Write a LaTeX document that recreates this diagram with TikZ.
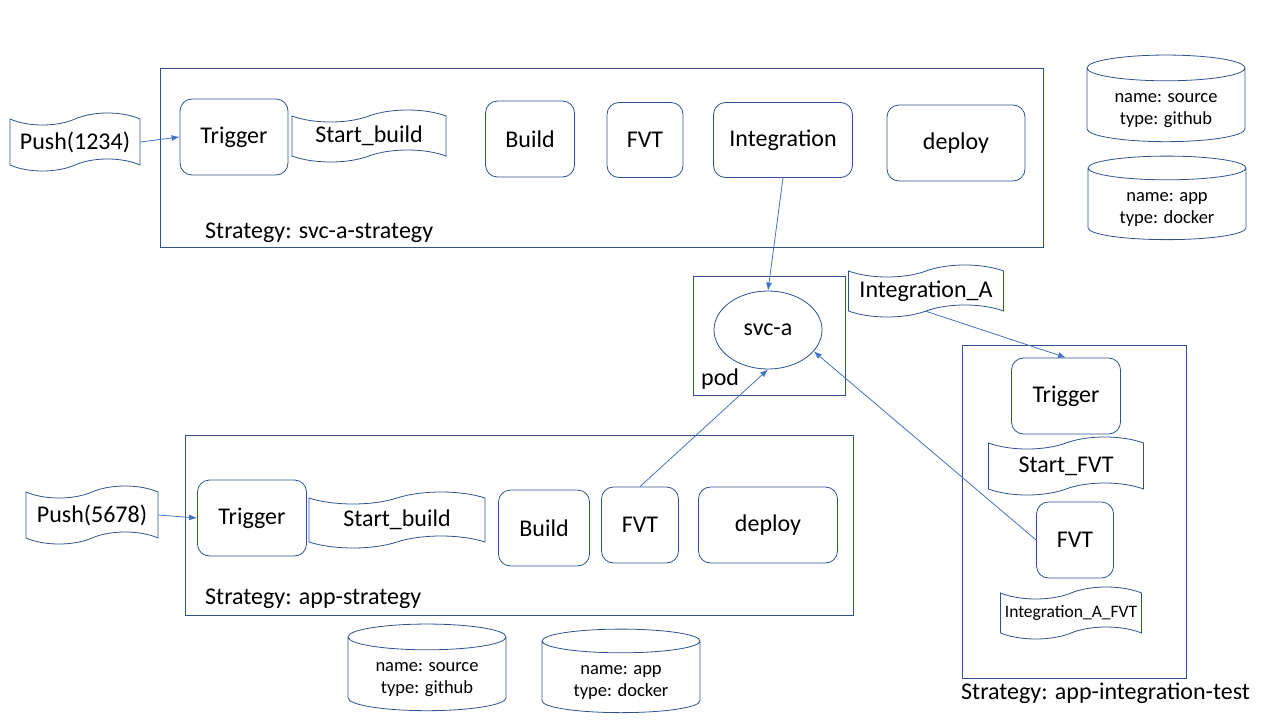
\documentclass[tikz,border=0pt]{standalone}
\usepackage{fontspec}
\setmainfont{Carlito}
\usetikzlibrary{positioning,shapes.symbols,shapes.geometric,arrows.meta}
\definecolor{outline}{HTML}{2F528F}
\definecolor{linkblue}{HTML}{4472C4}

\tikzset{
    stage/.style={draw=outline, line width=0.8pt, rounded corners=12pt, inner sep=0pt,
        font=\fontsize{24}{28}\selectfont},
    signal/.style={draw=outline, line width=0.8pt, tape, tape bend height=12pt, inner sep=0pt,
        font=\fontsize{24}{28}\selectfont},
    store/.style={draw=outline, line width=0.8pt, cylinder, shape border rotate=90, aspect=0.25,
        minimum width=158pt, minimum height=74pt, align=center, inner sep=0pt,
        text height=43pt, text depth=4.6pt, font=\fontsize{18.5}{22}\selectfont},
    frame/.style={draw=outline, line width=0.8pt},
    caption/.style={anchor=base west, inner sep=0pt, font=\fontsize{24}{28}\selectfont},
    flow/.style={draw=linkblue, line width=0.8pt, -{Latex[length=8pt,width=6pt]}},
}

\begin{document}
\begin{tikzpicture}[x=1pt,y=-1pt]
    \useasboundingbox (0,0) rectangle (1280,720);

    % svc-a strategy
    \draw[frame] (160,68) rectangle (1043,247);
    \node[caption] at (205,238) (capA) {Strategy: svc-a-strategy};
    \node[signal, minimum width=130pt, minimum height=58pt] at (75,142) (push1) {Push(1234)};
    \node[stage, minimum width=108pt, minimum height=76pt] at (234,137) (trig1) {Trigger};
    \node[signal, minimum width=154pt, minimum height=52pt] at (369,136) (start1) {Start\_build};
    \node[stage, minimum width=89pt, minimum height=76pt] at (530,139) (build1) {Build};
    \node[stage, minimum width=76pt, minimum height=75pt] at (645,140) (fvt1) {FVT};
    \node[stage, minimum width=139pt, minimum height=75pt] at (783,140) (integ) {Integration};
    \node[stage, minimum width=138pt, minimum height=76pt] at (956,143) (deploy1) {deploy};

    \node[store] at (1166,105) (srcA) {name: source\\type: github};
    \node[store] at (1167,204) (imgA) {name: app\\type: docker};

    % pod
    \draw[frame] (693,276) rectangle (845,395);
    \node[draw=outline, line width=0.8pt, ellipse, minimum width=108pt, minimum height=78pt,
        font=\fontsize{24}{28}\selectfont] at (768,330) (svc) {svc-a};
    \node[caption] at (701,385) (podlbl) {pod};
    \node[signal, minimum width=155pt, minimum height=52pt] at (926,291) (intA) {Integration\_A};

    % app strategy
    \draw[frame] (185,435) rectangle (853,615);
    \node[caption] at (205,604) (capB) {Strategy: app-strategy};
    \node[signal, minimum width=132pt, minimum height=58pt] at (92,515) (push2) {Push(5678)};
    \node[stage, minimum width=109pt, minimum height=76pt] at (252,518) (trig2) {Trigger};
    \node[signal, minimum width=176pt, minimum height=56pt] at (397,520) (start2) {Start\_build};
    \node[stage, minimum width=91pt, minimum height=76pt] at (544,528) (build2) {Build};
    \node[stage, minimum width=77pt, minimum height=76pt] at (640,525) (fvt2) {FVT};
    \node[stage, minimum width=139pt, minimum height=76pt] at (768,525) (deploy2) {deploy};

    \node[store] at (427,674) (srcB) {name: source\\type: github};
    \node[store] at (621,677) (imgB) {name: app\\type: docker};

    % app integration test
    \draw[frame] (962,345) rectangle (1186,678);
    \node[caption] at (961,699) (capC) {Strategy: app-integration-test};
    \node[stage, minimum width=109pt, minimum height=76pt] at (1066,396) (trig3) {Trigger};
    \node[signal, minimum width=155pt, minimum height=58pt] at (1066,466) (start3) {Start\_FVT};
    \node[stage, minimum width=77pt, minimum height=76pt] at (1075,540) (fvt3) {FVT};
    \node[signal, minimum width=141pt, minimum height=52pt, font=\fontsize{17.5}{21}\selectfont]
        at (1071,613) (startA) {Integration\_A\_FVT};

    % connectors
    \draw[flow] (push1.east) -- (trig1.west);
    \draw[flow] (push2.east) -- (trig2.west);
    \draw[flow] (integ.south) -- (svc.north);
    \draw[flow] (fvt2.north) -- (svc.south);
    \draw[flow] (fvt3.west) -- (svc.-25);
    \draw[flow] (intA.south) -- (trig3.north);
\end{tikzpicture}
\end{document}
